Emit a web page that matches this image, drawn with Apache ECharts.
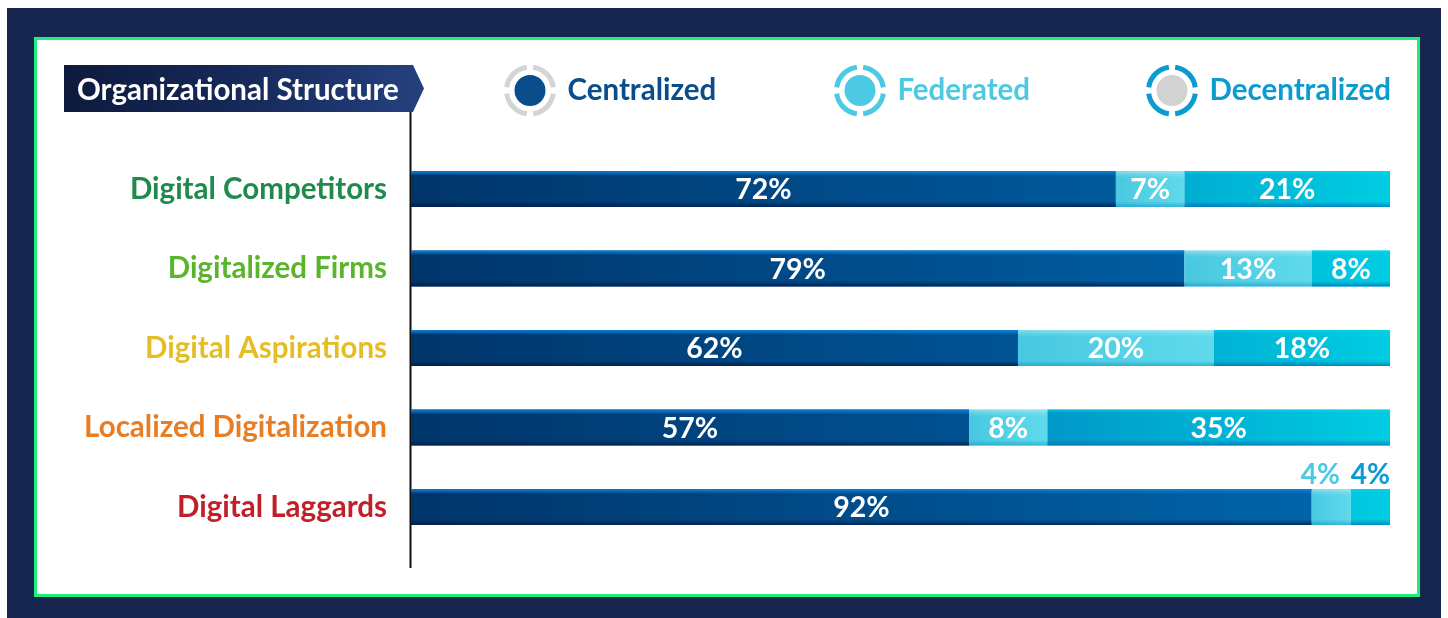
<!DOCTYPE html>
<html>
<head>
<meta charset="utf-8">
<script src="https://cdn.jsdelivr.net/npm/echarts@6/dist/echarts.min.js"></script>
<style>
html,body{margin:0;padding:0;background:#fff;}
#chart{width:1448px;height:618px;}
</style>
</head>
<body>
<div id="chart"></div>
<script>
// ---- data ----
var categories = ['Digital Competitors', 'Digitalized Firms', 'Digital Aspirations', 'Localized Digitalization', 'Digital Laggards'];
var centralized = [72, 79, 62, 57, 92];
var federated = [7, 13, 20, 8, 4];
var decentralized = [21, 8, 18, 35, 4];
var seriesNames = ['Centralized', 'Federated', 'Decentralized'];
var categoryColors = ['#1e8a4c', '#5ab52c', '#e6bd25', '#e97d24', '#c1202b'];
var titleText = 'Organizational Structure';

var FONT = 'Lato, "Noto Sans", sans-serif';
var chart = echarts.init(document.getElementById('chart'), null, {renderer: 'canvas'});

function grad(x0, y0, x1, y1, stops, global) {
  return new echarts.graphic.LinearGradient(x0, y0, x1, y1,
    stops.map(function (s) { return {offset: s[0], color: s[1]}; }), global);
}

var baseFills = [
  grad(411, 0, 1390, 0, [[0, '#00356a'], [0.45, '#004c8a'], [1, '#0068ae']], true),
  grad(0, 0, 1, 0, [[0, '#48c8e1'], [1, '#5fdaeb']]),
  grad(1040, 0, 1390, 0, [[0, '#0097c7'], [1, '#00cde2']], true)
];
var glossFills = [
  grad(0, 0, 0, 1, [[0, 'rgba(10,130,220,0.95)'], [0.07, 'rgba(10,130,220,0.55)'], [0.13, 'rgba(10,130,220,0)'], [0.85, 'rgba(0,20,60,0)'], [1, 'rgba(0,25,70,0.75)']]),
  grad(0, 0, 0, 1, [[0, 'rgba(255,255,255,0.35)'], [0.12, 'rgba(255,255,255,0.1)'], [0.2, 'rgba(255,255,255,0)'], [0.85, 'rgba(0,130,190,0)'], [1, 'rgba(0,130,190,0.45)']]),
  grad(0, 0, 0, 1, [[0, 'rgba(0,225,240,0.6)'], [0.1, 'rgba(0,225,240,0)'], [0.85, 'rgba(0,90,170,0)'], [1, 'rgba(0,90,170,0.6)']])
];
var topLabelColors = ['#0a4d8c', '#4ccae3', '#0a9bd0'];
var topLabelOffsets = [[0, 0], [-11, 0], [0, 0]];
var legendTextColors = ['#0a4d8c', '#4ccae3', '#0a9bd0'];
var legendDotColors = ['#0a4d8c', '#4ccae3', '#d2d2d2'];
var legendRingColors = ['#d4d4d4', '#4ccae3', '#0a9bd0'];
var legendCenters = [[530, 90.5], [860, 90.5], [1172, 90.5]];

var values = [centralized, federated, decentralized];
var series = [];
values.forEach(function (vals, i) {
  series.push({
    name: seriesNames[i], type: 'bar', stack: 'base', barWidth: 36, barGap: '-100%',
    z: 2, silent: true,
    itemStyle: {color: baseFills[i]},
    data: vals
  });
});
values.forEach(function (vals, i) {
  series.push({
    name: seriesNames[i] + ' gloss', type: 'bar', stack: 'gloss', barWidth: 36, barGap: '-100%',
    z: 3, silent: true,
    itemStyle: {color: glossFills[i]},
    label: {show: true, position: 'inside', color: '#fff', fontFamily: FONT, fontWeight: 'bold', fontSize: 28.5,
      offset: [0, 1], formatter: function (p) { return p.value + '%'; }},
    data: vals.map(function (v) {
      if (v < 5) {
        return {value: v, label: {position: 'top', distance: 0, color: topLabelColors[i], offset: topLabelOffsets[i], fontSize: 28}};
      }
      return v;
    })
  });
});

var legends = seriesNames.map(function (n, i) {
  return {
    left: legendCenters[i][0] - 15.5, top: legendCenters[i][1] - 15.5, padding: 0,
    selectedMode: false, itemWidth: 31, itemHeight: 31,
    data: [{name: n, icon: 'circle', itemStyle: {color: legendDotColors[i]},
      textStyle: {color: legendTextColors[i]}}],
    textStyle: {fontFamily: FONT, fontWeight: 'bold', fontSize: 29.5, padding: [0, 0, 0, 17]}
  };
});

var graphics = [
  {type: 'rect', z: -10, shape: {x: 7, y: 8, width: 1434, height: 612}, style: {fill: '#17264f'}},
  {type: 'rect', z: -9, shape: {x: 35.5, y: 38.5, width: 1383, height: 557}, style: {fill: '#ffffff', stroke: '#1df07a', lineWidth: 3}},
  {type: 'polygon', z: -8, shape: {points: [[64, 65], [413, 65], [424, 88.5], [413, 112], [64, 112]]},
    style: {fill: grad(0, 1, 1, 0, [[0, '#0e1a3c'], [0.5, '#16295a'], [1, '#25427f']])}},
  {type: 'text', z: -7, x: 77, y: 90, style: {text: titleText, fill: '#ffffff', font: 'bold 29.5px ' + FONT, textVerticalAlign: 'middle', verticalAlign: 'middle'}},
  {type: 'line', z: -7, shape: {x1: 410.5, y1: 112, x2: 410.5, y2: 568}, style: {stroke: '#111111', lineWidth: 2}}
];
legendCenters.forEach(function (c, i) {
  for (var k = 0; k < 4; k++) {
    var a0 = k * Math.PI / 2 + 0.135;
    var a1 = (k + 1) * Math.PI / 2 - 0.135;
    graphics.push({type: 'arc', z: -6, shape: {cx: c[0], cy: c[1], r: 23.5, startAngle: a0, endAngle: a1},
      style: {stroke: legendRingColors[i], lineWidth: 5, fill: null}});
  }
});

var option = {
  backgroundColor: '#ffffff',
  animation: false,
  legend: legends,
  graphic: graphics,
  grid: {left: 411, right: 58, top: 149.25, bottom: 71.25, containLabel: false},
  xAxis: {type: 'value', min: 0, max: 100, show: false},
  yAxis: {
    type: 'category', data: categories, inverse: true,
    axisLine: {show: false}, axisTick: {show: false}, splitLine: {show: false},
    axisLabel: {margin: 24, fontFamily: FONT, fontWeight: 'bold', fontSize: 29.5, padding: [4, 0, 0, 0],
      color: function (v, idx) { return categoryColors[categories.indexOf(v)]; }}
  },
  series: series
};
chart.setOption(option);
</script>
</body>
</html>
